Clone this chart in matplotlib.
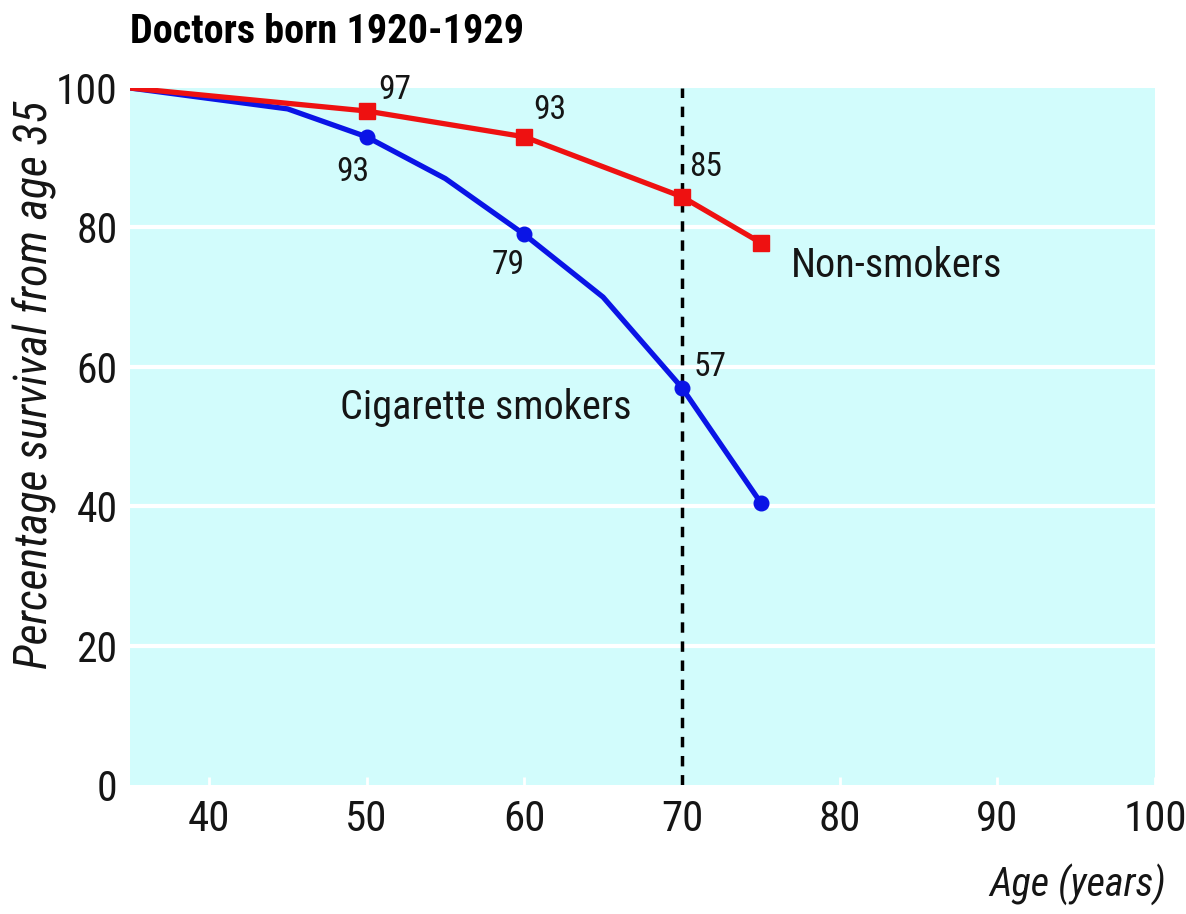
import matplotlib.pyplot as plt
from matplotlib import font_manager

# data
smoker_ages = [35, 40, 45, 50, 55, 60, 65, 70, 75]
smoker_surv = [100, 98.5, 97, 93, 87, 79, 70, 57, 40.5]
smoker_mark_ages = [50, 60, 70, 75]
smoker_mark_surv = [93, 79, 57, 40.5]

nonsmoker_ages = [35, 45, 50, 60, 70, 75]
nonsmoker_surv = [100, 97.8, 96.7, 93, 84.4, 77.8]
nonsmoker_mark_ages = [50, 60, 70, 75]
nonsmoker_mark_surv = [96.7, 93, 84.4, 77.8]

# value labels: (text, x, y)
smoker_labels = [("93", 49.1, 87.9), ("79", 59.0, 74.6), ("57", 71.8, 60.0)]
nonsmoker_labels = [("97", 51.8, 99.7), ("93", 61.6, 96.8), ("85", 71.5, 88.7)]

xticks = [40, 50, 60, 70, 80, 90, 100]
yticks = [0, 20, 40, 60, 80, 100]

# pick a condensed face, like the original Helvetica Condensed
names = {f.name for f in font_manager.fontManager.ttflist}
wanted = ['Roboto Condensed', 'Archivo Narrow', 'PT Sans Narrow', 'Liberation Sans Narrow',
          'IBM Plex Sans Condensed', 'Fira Sans Condensed', 'Encode Sans Condensed']
narrow = next((n for n in wanted if n in names), 'DejaVu Sans')
plt.rcParams['font.family'] = [narrow, 'DejaVu Sans']

bg = '#d2fcfc'
red = '#ee1111'
blue = '#0a14e6'
ink = '#151515'

fig = plt.figure(figsize=(11.86, 9.14), dpi=100)
ax = fig.add_axes([130 / 1186, 1 - 785 / 914, (1155 - 130) / 1186, (785 - 88) / 914])
ax.set_facecolor(bg)

for y in [20, 40, 60, 80]:
    ax.axhline(y, color='white', lw=3, zorder=1)
ax.axvline(70, color='black', lw=2.5, ls=(0, (3, 2.5)), zorder=2)

ax.plot(smoker_ages, smoker_surv, color=blue, lw=3.8, zorder=3)
ax.plot(smoker_mark_ages, smoker_mark_surv, 'o', color=blue, ms=10.5, zorder=4)
ax.plot(nonsmoker_ages, nonsmoker_surv, color=red, lw=3.8, zorder=3)
ax.plot(nonsmoker_mark_ages, nonsmoker_mark_surv, 's', color=red, ms=11.5, zorder=4)

for txt, x, y in smoker_labels + nonsmoker_labels:
    ax.text(x, y, txt, fontsize=24, ha='center', va='center', color=ink)

ax.text(76.9, 74.6, "Non-smokers", fontsize=29, va='center', color=ink)
ax.text(48.3, 54.2, "Cigarette smokers", fontsize=29, va='center', color=ink)

ax.set_xlim(35, 100)
ax.set_ylim(0, 100)
ax.set_xticks(xticks)
ax.set_yticks(yticks)
ax.tick_params(axis='x', direction='in', color='white', length=6, width=2,
               labelsize=31, pad=10, labelcolor=ink)
ax.tick_params(axis='y', length=0, labelsize=30, pad=9, labelcolor=ink)
for s in ax.spines.values():
    s.set_visible(False)

fig.text(130 / 1186, 1 - 32 / 914, "Doctors born 1920-1929", fontsize=29,
         fontweight='bold', va='center', ha='left')
fig.text(34 / 1186, 1 - 385 / 914, "Percentage survival from age 35", fontsize=33,
         style='italic', rotation=90, va='center', ha='center', color=ink)
fig.text(1166 / 1186, 1 - 885 / 914, "Age (years)", fontsize=29,
         style='italic', va='center', ha='right', color=ink)

fig.savefig('out.png', dpi=100)
